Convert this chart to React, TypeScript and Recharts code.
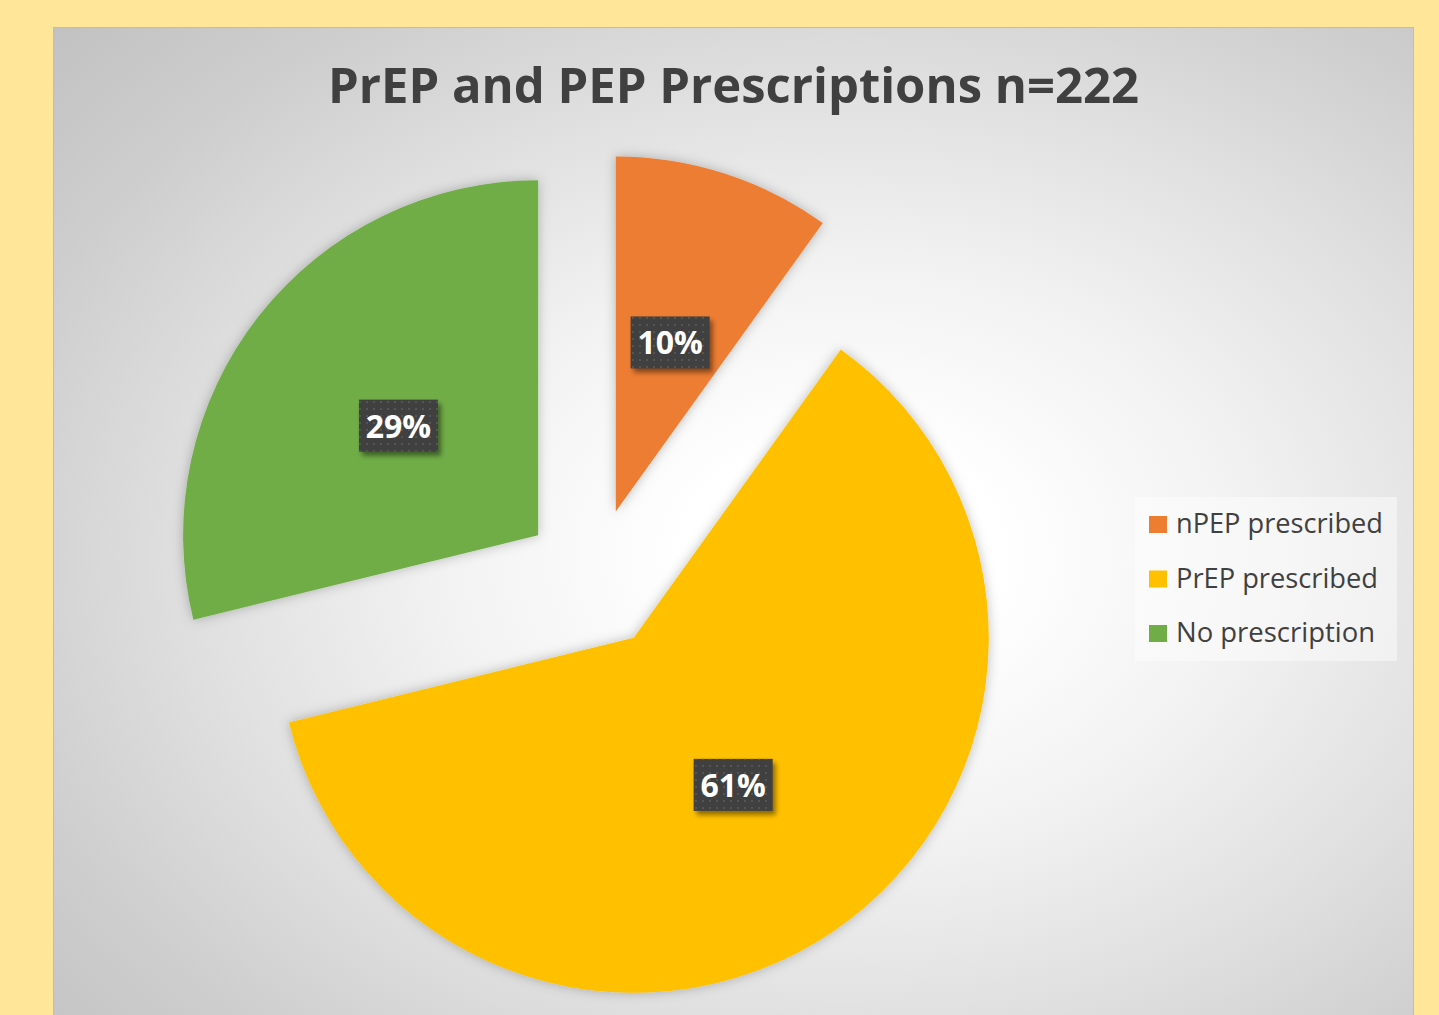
import React from 'react';
import { PieChart, Pie, Cell, Legend } from 'recharts';

const categories = ['nPEP prescribed', 'PrEP prescribed', 'No prescription'];
const counts = [22, 136, 64];
const percentLabels = ['10%', '61%', '29%'];
const colors = ['#ED7D31', '#FFC000', '#70AD47'];
const titleText = 'PrEP and PEP Prescriptions n=222';

const data = categories.map((name, i) => ({ name, value: counts[i] }));
const total = counts.reduce((a, b) => a + b, 0);

const CX = 594;
const CY = 579;
const R = 355;
const EXPLODE = 71;
const RAD = Math.PI / 180;

// explode offsets along each slice's mid angle (clockwise from 12 o'clock)
let cum = 0;
const offsets = counts.map((v) => {
  const mid = ((cum + v / 2) / total) * 360;
  cum += v;
  return { dx: EXPLODE * Math.sin(mid * RAD), dy: -EXPLODE * Math.cos(mid * RAD) };
});

const FONT = "'Open Sans', 'Noto Sans', sans-serif";

const makeLabel = (only: number) => (props: any) => {
  if (props.index !== only) return null;
  const { cx, cy, midAngle, outerRadius } = props;
  const r = outerRadius / 2;
  const x = cx + r * Math.cos(-midAngle * RAD);
  const y = cy + r * Math.sin(-midAngle * RAD);
  const w = 79;
  const h = 52;
  return (
    <g>
      <rect x={x - w / 2 + 3} y={y - h / 2 + 4} width={w} height={h} fill="#000" opacity={0.45} filter="url(#lblBlur)" />
      <rect x={x - w / 2} y={y - h / 2} width={w} height={h} fill="#404040" />
      <rect x={x - w / 2} y={y - h / 2} width={w} height={h} fill="url(#dots)" />
      <text x={x} y={y + 12} textAnchor="middle" fill="#FFFFFF" fontFamily={FONT} fontWeight={700} fontSize={32}>
        {percentLabels[only]}
      </text>
    </g>
  );
};

const LegendBox = () => (
  <svg width={262} height={164} style={{ display: 'block' }}>
    <rect x={0} y={0} width={262} height={164} fill="rgba(255,255,255,0.45)" />
    {categories.map((c, i) => {
      const base = 36 + i * 54.5;
      return (
        <g key={c}>
          <rect x={14} y={base - 17} width={18} height={17} fill={colors[i]} />
          <text x={41} y={base} fill="#404040" fontFamily={FONT} fontSize={28} textLength={[207, 202, 199][i]} lengthAdjust="spacingAndGlyphs">
            {c}
          </text>
        </g>
      );
    })}
  </svg>
);

export default function App() {
  return (
    <div style={{ position: 'absolute', left: 0, top: 0, width: 1439, height: 1015, overflow: 'hidden', background: '#FFE699' }}>
      <svg width={0} height={0} style={{ position: 'absolute' }}>
        <defs>
          <pattern id="dots" x={0} y={0} width={7} height={7} patternUnits="userSpaceOnUse">
            <rect x={2} y={2} width={2} height={2} fill="#555555" />
          </pattern>
          <filter id="lblBlur" x="-20%" y="-20%" width="140%" height="140%">
            <feGaussianBlur stdDeviation={2.5} />
          </filter>
          <filter id="sliceShadow" x="-15%" y="-15%" width="130%" height="130%">
            <feDropShadow dx={0} dy={0} stdDeviation={6} floodColor="#000" floodOpacity={0.25} />
          </filter>
        </defs>
      </svg>
      <div
        style={{
          position: 'absolute',
          left: 53,
          top: 27,
          width: 1361,
          height: 1100,
          boxSizing: 'border-box',
          border: '1px solid #BDBDBD',
          background:
            'radial-gradient(ellipse farthest-corner at 58% 48%, #FFFFFF 0%, #FFFFFF 14%, #F2F2F2 36%, #E0E0E0 58%, #CECECE 78%, #BFBFBF 100%)',
        }}
      />
      <svg width={1439} height={140} style={{ position: 'absolute', left: 0, top: 0 }}>
        <text x={733.5} y={103} textAnchor="middle" fill="#404040" fontFamily={FONT} fontWeight={700} fontSize={49} textLength={811} lengthAdjust="spacingAndGlyphs">
          {titleText}
        </text>
      </svg>
      <div style={{ position: 'absolute', left: 0, top: 0 }}>
        <PieChart width={1439} height={1015} margin={{ top: 0, right: 0, bottom: 0, left: 0 }}>
          {categories.map((_, k) => (
            <Pie
              key={k}
              data={data}
              dataKey="value"
              nameKey="name"
              cx={CX + offsets[k].dx}
              cy={CY + offsets[k].dy}
              outerRadius={R}
              innerRadius={0}
              startAngle={90}
              endAngle={-270}
              stroke="none"
              isAnimationActive={false}
              labelLine={false}
              label={makeLabel(k)}
              legendType="square"
            >
              {data.map((d, i) => (
                <Cell
                  key={d.name}
                  fill={i === k ? colors[i] : 'none'}
                  filter={i === k ? 'url(#sliceShadow)' : undefined}
                />
              ))}
            </Pie>
          ))}
          <Legend
            content={() => <LegendBox />}
            wrapperStyle={{ position: 'absolute', left: 1135, top: 497, width: 262, height: 164, right: 'auto', bottom: 'auto' }}
          />
        </PieChart>
      </div>
    </div>
  );
}
